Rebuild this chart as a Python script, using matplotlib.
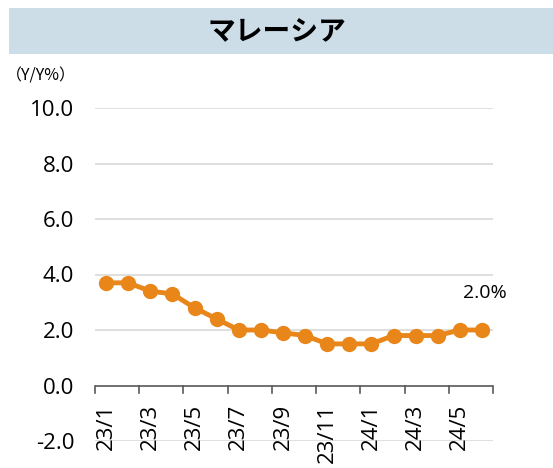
import matplotlib
matplotlib.use("Agg")
import matplotlib.pyplot as plt
from matplotlib.patches import Rectangle

categories = ["23/1","23/2","23/3","23/4","23/5","23/6","23/7","23/8","23/9","23/10",
              "23/11","23/12","24/1","24/2","24/3","24/4","24/5","24/6"]
values = [3.7, 3.7, 3.4, 3.3, 2.8, 2.4, 2.0, 2.0, 1.9, 1.8, 1.5, 1.5, 1.5, 1.8, 1.8, 1.8, 2.0, 2.0]
yticks = [-2.0, 0.0, 2.0, 4.0, 6.0, 8.0, 10.0]
title = "マレーシア"
unit = "（Y/Y%）"
last_label = "2.0%"

plt.rcParams['font.family'] = ['Open Sans', 'Noto Sans CJK JP', 'DejaVu Sans']
W, H = 553, 468
fig = plt.figure(figsize=(W/100, H/100), dpi=100)

# title band
fig.patches.append(Rectangle((9/W, 1-54/H), (W-9)/W, 46/H, transform=fig.transFigure,
                             facecolor="#CCDDE8", edgecolor="none", zorder=0))
fig.text((9+W)/2/W - 4/W, 1-31/H, title, ha="center", va="center", fontsize=20,
         fontweight="bold", family=['Noto Sans CJK JP'])
fig.text(6/W, 1-76/H, unit, ha="left", va="center", fontsize=11.5,
         family=['Noto Sans CJK JP', 'DejaVu Sans'])

left, right = 95, 493
top, bottom = 108, 441
ax = fig.add_axes([left/W, 1-bottom/H, (right-left)/W, (bottom-top)/H])
n = len(values)
x = list(range(n))
ax.set_xlim(-0.5, n-0.5)
ax.set_ylim(-2, 10)
ax.set_yticks(yticks)
ax.set_yticklabels([f"{v:.1f}" for v in yticks], fontsize=16)
ax.tick_params(axis='y', length=0, pad=15)
for v in yticks:
    if v != 0:
        ax.axhline(v, color="#D9D9D9", lw=1.2, zorder=0)
for s in ["top", "right", "left", "bottom"]:
    ax.spines[s].set_visible(False)
ax.axhline(0, color="#595959", lw=1.2, zorder=1)

ax.plot(x, values, color="#E8861A", lw=3.5, marker="o", markersize=10, zorder=3)

# x ticks at boundaries every 2 categories
ax.set_xticks([])
for b in range(0, n+1, 2):
    ax.plot([b-0.5, b-0.5], [0, -0.28], color="#595959", lw=1.2, clip_on=False, zorder=1)
for i in range(0, n, 2):
    ax.text(i, -0.66, categories[i], rotation=90, ha="center", va="top", fontsize=16)

ax.annotate(last_label, (x[-1], values[-1]), xytext=(2, 27), textcoords="offset points",
            ha="center", va="center", fontsize=14)

fig.savefig("out.png", dpi=100)
